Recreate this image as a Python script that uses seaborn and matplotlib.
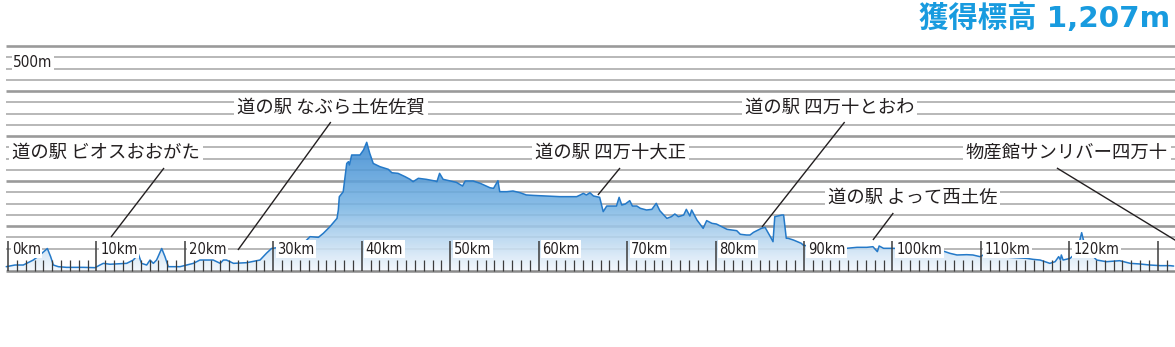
import numpy as np
import pandas as pd
import matplotlib
matplotlib.use("Agg")
import matplotlib.pyplot as plt
import seaborn as sns
from matplotlib import font_manager as fm
from matplotlib.colors import LinearSegmentedColormap
from matplotlib.patches import Polygon

# Route elevation profile: distance (km) and elevation (m)
distance_km = [
    -0.2, 0.79, 1.73, 2.11, 2.86, 3.62, 4.45, 4.82, 5.13, 5.69, 6.63, 8.52, 9.84,
    10.4, 10.78, 11.53, 13.42, 14.17, 14.74, 15.1, 15.68, 16.06, 16.43, 16.8,
    17.38, 17.75, 18.13, 19.45, 20.2, 20.96, 21.7, 22.47, 23.2, 23.6, 24.0,
    24.35, 24.7, 25.1, 25.5, 27.0, 28.5, 29.25, 29.8, 31.5, 33.4, 34.15, 35.1,
    35.65, 36.4, 37.2, 37.35, 37.46, 37.9, 38.3, 38.5, 38.6, 38.86, 39.8, 40.2,
    40.56, 40.9, 41.3, 42.06, 43.0, 43.4, 44.1, 44.9, 45.45, 45.8, 46.4, 47.3,
    48.3, 48.5, 48.8, 49.2, 50.0, 50.7, 51.4, 51.7, 52.6, 53.4, 54.5, 54.9,
    55.4, 55.6, 56.4, 57.1, 57.9, 58.6, 59.4, 60.9, 62.4, 64.3, 64.7, 65.05,
    65.4, 65.8, 66.2, 66.9, 67.3, 67.7, 68.8, 69.1, 69.4, 69.8, 70.3, 70.6,
    71.1, 71.5, 72.2, 72.8, 73.3, 73.7, 74.5, 75.0, 75.4, 75.8, 76.4, 76.7,
    77.1, 77.3, 77.9, 78.6, 79.0, 79.6, 80.1, 80.7, 81.3, 82.4, 82.8, 83.5,
    83.9, 84.3, 85.2, 85.6, 86.2, 86.5, 86.7, 87.5, 87.7, 88.0, 88.2, 88.8,
    89.7, 89.9, 91.5, 94.1, 94.8, 96.0, 97.1, 97.8, 98.3, 98.5, 99.0, 100.1,
    102.7, 105.4, 106.5, 107.3, 108.4, 109.1, 109.9, 110.3, 112.7, 115.2,
    115.9, 116.7, 117.8, 118.4, 118.8, 119.0, 119.1, 119.3, 120.1, 120.5,
    121.2, 121.4, 121.6, 122.3, 123.1, 124.2, 125.7, 126.9, 128.0, 129.1,
    130.3, 131.4, 131.8,
]
elevation_m = [
    9.6, 13.3, 13.3, 17, 24.4, 35.6, 50, 31.9, 13.3, 9.6, 8.1, 8.1, 7.4,
    13.3, 17, 15, 17, 24.4, 37.8, 17, 13.3, 24.4, 17, 24.4,
    50, 31.9, 9.6, 9.6, 13.3, 17, 24.4, 24.4, 24.4, 20.7, 17,
    24.4, 24.4, 20.7, 17, 18.5, 24.4, 40, 50, 55, 61.5, 76.3, 74.8,
    83.7, 98.5, 117, 135.6, 165, 176, 239, 243, 235.6, 257.8, 257.8, 269,
    286, 261.6, 239, 231.8, 226, 218.4, 217, 209.6, 203.8, 198.5, 206, 203.7,
    200, 198.5, 217, 203.7, 200, 197, 188.9, 200, 200, 194.8, 185, 183.7,
    200.7, 176.3, 176.3, 177.8, 174, 169, 168, 166.7, 165.2, 165.2, 168.9, 172.6,
    168.9, 174, 166.7, 163.7, 131.9, 144.4, 144.4, 163.7, 146.7, 148.9, 156.3, 144.4,
    144.4, 139.3, 135.6, 137, 150.4, 134.1, 117, 120.7, 126.7, 120.7, 124.4, 137,
    122.2, 135.6, 113.3, 94.8, 111.9, 105.9, 104.4, 98.5, 92.6, 89.6, 81.6, 80,
    80, 86, 94.9, 97, 76.2, 65.1, 120.7, 124.4, 124.4, 72.7, 72.7, 68.9,
    61.5, 57.8, 50, 46.7, 50.4, 52.6, 52.6, 54, 43, 55.6, 50.4, 50.4,
    48.5, 46.7, 39.3, 35.6, 36.3, 35.6, 31.9, 35.6, 31, 28.1,
    25.9, 24.4, 17, 20.7, 31.9, 24.4, 35.6, 24.4, 28.1, 35.6,
    68.9, 85.2, 68.9, 40, 24.4, 20.7, 22.9, 17, 15.6, 13.3,
    11.9, 11.9, 11,
]

# Roadside stations along the route
station_names = [
    "道の駅 ビオスおおがた",
    "道の駅 なぶら土佐佐賀",
    "道の駅 四万十大正",
    "道の駅 四万十とおわ",
    "道の駅 よって西土佐",
    "物産館サンリバー四万十",
]
station_km = [11.65, 26.0, 66.7, 85.25, 97.8, 132.6]

gain_label = "獲得標高 1,207m"
km_ticks = list(range(0, 130, 10))
km_labels = [f"{k}km" for k in km_ticks]
elev_label = "500m"

# ---------------------------------------------------------------- style
sns.set_theme(style="white")
plt.rcParams["font.family"] = ["Noto Sans CJK JP", "DejaVu Sans"]


def narrow_font(size):
    """A narrow sans face for the distance labels, if one is installed."""
    best = None
    for f in fm.fontManager.ttflist:
        fname = f.fname.lower()
        if f.style != "normal" or f.weight not in (400, "normal", "regular"):
            continue
        if "bold" in fname or "oblique" in fname or "italic" in fname:
            continue
        if "liberationsansnarrow" in fname.replace("-", "").replace("_", ""):
            best = f.fname
            break
        if "condensed" in fname or f.stretch in ("condensed", "semi-condensed"):
            best = best or f.fname
    if best:
        return fm.FontProperties(fname=best, size=size)
    return fm.FontProperties(family="DejaVu Sans", size=size * 0.88)


W, H = 1175, 347
PX_PER_KM = 8.844
PX_PER_M = 0.45
X0_PX, Y0_PX = 8, 271

fig = plt.figure(figsize=(W / 100, H / 100), dpi=100)
ax = fig.add_axes([0, 0, 1, 1])
xmin, xmax = -X0_PX / PX_PER_KM, (W - X0_PX) / PX_PER_KM
ymin, ymax = (Y0_PX - H) / PX_PER_M, Y0_PX / PX_PER_M

# horizontal guide lines every 25 m, heavier every 100 m
grid_left = -0.23
for e in range(50, 525, 25):
    heavy = e % 100 == 0
    ax.hlines(e, grid_left, xmax, color="#9a9a9a" if heavy else "#b5b5b5",
              lw=1.9 if heavy else 1.35, zorder=1)

# gradient-filled profile
df = pd.DataFrame({"km": distance_km, "elev": elevation_m})
verts = list(zip(df["km"], df["elev"]))
verts = [(df["km"].iloc[0], 0)] + verts + [(df["km"].iloc[-1], 0)]
poly = Polygon(verts, closed=True, facecolor="none", edgecolor="none")
ax.add_patch(poly)
cmap = LinearSegmentedColormap.from_list(
    "elev", [(0.0, "#f3f8fd"), (0.2, "#c2dcf2"), (0.5, "#76b3e3"), (1.0, "#3686d0")])
grad = np.linspace(0, 1, 256).reshape(-1, 1)
img = ax.imshow(grad, extent=[xmin, xmax, 0, 290], origin="lower", cmap=cmap,
                aspect="auto", alpha=0.87, zorder=2, interpolation="bilinear")
img.set_clip_path(poly)

sns.lineplot(data=df, x="km", y="elev", ax=ax, color="#2479c8", lw=1.1,
             sort=False, estimator=None, zorder=4)

# base line and distance ticks
ax.hlines(0, grid_left, xmax, color="#8a8a8a", lw=1.8, zorder=5)
for k in range(0, 132):
    major = k % 10 == 0
    ax.vlines(k, 0, 66.7 if major else 23.5, color="#3c3c3c",
              lw=1.1 if major else 0.9, zorder=5)

km_font = narrow_font(10.5)
for k, lab in zip(km_ticks, km_labels):
    ax.text(k + 0.45, 48, lab, ha="left", va="center", fontproperties=km_font,
            color="#231f20", zorder=6,
            bbox=dict(boxstyle="square,pad=0.1", fc="white", ec="none"))

ax.text(0.57, 462.5, elev_label, ha="left", va="center",
        fontproperties=narrow_font(11), color="#231f20", zorder=6,
        bbox=dict(boxstyle="square,pad=0.1", fc="white", ec="none"))

# station labels with leader lines
label_layout = [  # (text x km, text y m, leader top km, leader top m, leader bottom m)
    (0.45, 262.5, 17.64, 228.9, 75.6),
    (25.9, 362.5, 36.5, 331.0, 46.7),
    (59.6, 262.5, 69.2, 228.9, 168.9),
    (83.3, 362.5, 94.6, 331.0, 97.8),
    (92.7, 162.5, 100.1, 128.9, 68.9),
    (108.3, 262.5, 118.6, 228.9, 61.0),
]
for name, km, (tx, ty, lx, ly, by) in zip(station_names, station_km, label_layout):
    ax.text(tx, ty, name, ha="left", va="center", fontsize=13.2, color="#231f20",
            zorder=6, bbox=dict(boxstyle="square,pad=0.15", fc="white", ec="none"))
    ax.plot([lx, km], [ly, by], color="#231f20", lw=1.0, zorder=7,
            solid_capstyle="butt")

fig.text(1170 / W, 1 - 18 / H, gain_label, ha="right", va="center",
         fontsize=21.2, weight="bold", color="#189bdf",
         family=["DejaVu Sans", "Noto Sans CJK JP"])

ax.set_xlim(xmin, xmax)
ax.set_ylim(ymin, ymax)
ax.axis("off")
fig.savefig("out.png", dpi=100, facecolor="white")
